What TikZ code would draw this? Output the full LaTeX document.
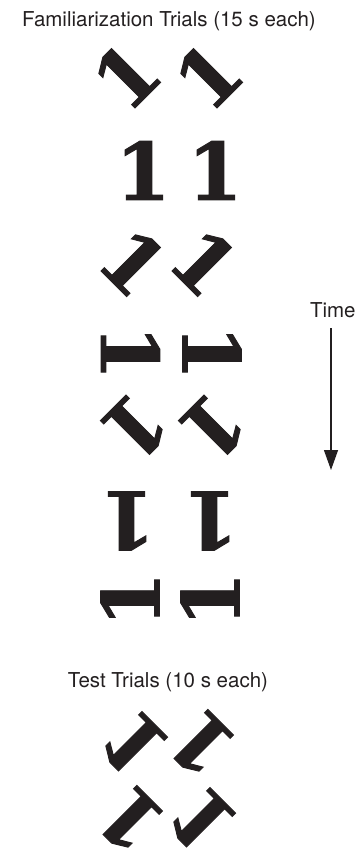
\documentclass[tikz,border=0pt]{standalone}
\usepackage{fontspec}
\usepackage{graphicx}
\setmainfont{TeX Gyre Heros}
\newfontfamily\stimfont[FakeBold=1.2]{DejaVu Serif Bold}
\usetikzlibrary{arrows.meta}
\definecolor{ink}{HTML}{231F20}
% the figure "1" in a box as wide as its foot, plain and mirrored
\newcommand\stimone{\makebox[.46em]{1}}
\newcommand\stimmirror{\reflectbox{\makebox[.46em]{1}}}
\tikzset{
  stim/.style={inner sep=0pt, outer sep=0pt, text=ink,
    font=\stimfont\fontsize{79}{79}\selectfont},
  caption/.style={inner sep=0pt, outer sep=0pt, text=ink,
    font=\fontsize{20.5}{24}\selectfont},
  timearrow/.style={draw=ink, line width=1.3pt,
    -{Triangle[length=20pt,width=14pt]}},
}
\begin{document}
\begin{tikzpicture}[x=1pt,y=-1pt]
\useasboundingbox (0,0) rectangle (356,851);
% headings
\node[caption, anchor=base] (famtitle) at (169,27) {Familiarization Trials (15 s each)};
\node[caption, anchor=base] (testtitle) at (168,687) {Test Trials (10 s each)};
% familiarization pairs: the same figure turned step by step
\node[stim, rotate=45]   (f1a) at (126,75.5)  {\stimone};
\node[stim, rotate=45]   (f1b) at (208,75.5)  {\stimone};
\node[stim]              (f2a) at (143,170.5) {\stimone};
\node[stim]              (f2b) at (215,170.5) {\stimone};
\node[stim, rotate=-45]  (f3a) at (133.5,262) {\stimone};
\node[stim, rotate=-45]  (f3b) at (204.5,262) {\stimone};
\node[stim, rotate=-90]  (f4a) at (130.5,352.5) {\stimone};
\node[stim, rotate=-90]  (f4b) at (212,352.5) {\stimone};
\node[stim, rotate=-135] (f5a) at (135,427.5) {\stimone};
\node[stim, rotate=-135] (f5b) at (213,427.5) {\stimone};
\node[stim, rotate=180]  (f6a) at (128,521) {\stimone};
\node[stim, rotate=180]  (f6b) at (211,521) {\stimone};
\node[stim, rotate=90]   (f7a) at (130,599.5) {\stimone};
\node[stim, rotate=90]   (f7b) at (210,599.5) {\stimone};
% test pairs: mirror image next to the turned figure
\node[stim, rotate=135]  (t1a) at (133,744) {\stimmirror};
\node[stim, rotate=135]  (t1b) at (201,744) {\stimone};
\node[stim, rotate=135]  (t2a) at (130,820) {\stimone};
\node[stim, rotate=135]  (t2b) at (201,820) {\stimmirror};
% time axis
\node[caption, anchor=base west] (time) at (310,317) {Time};
\coordinate (tstart) at (331,328);
\coordinate (tend) at (331,470);
\draw[timearrow] (tstart) -- (tend);
\end{tikzpicture}
\end{document}
